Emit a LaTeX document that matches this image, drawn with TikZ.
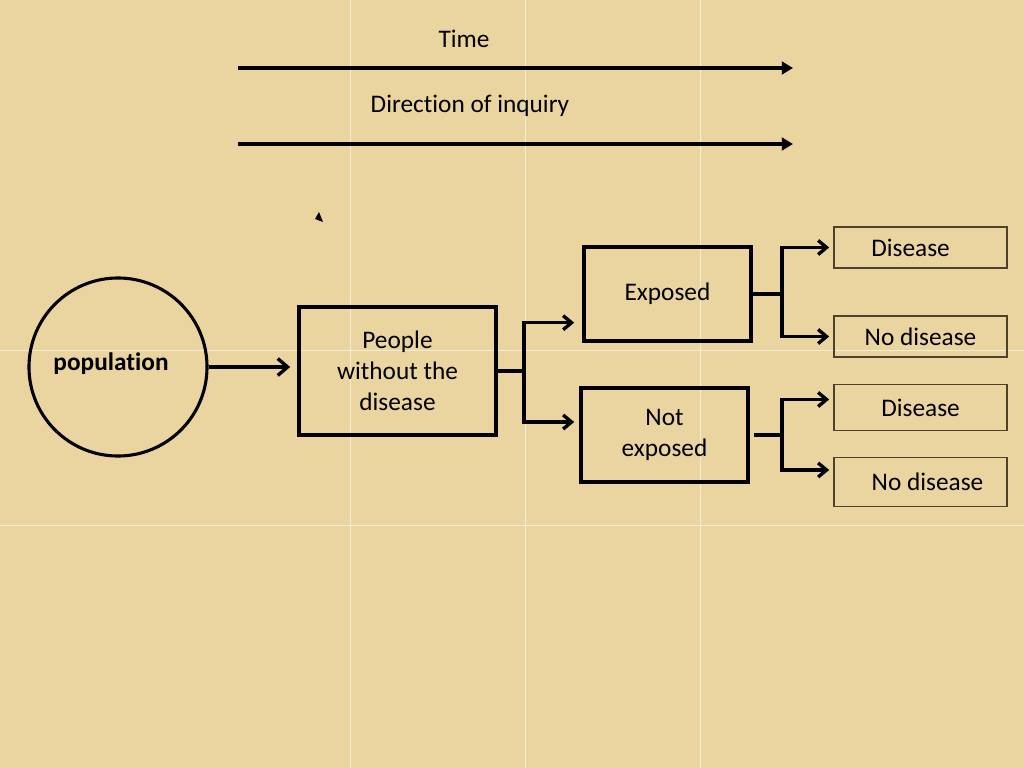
\documentclass[tikz,border=0pt]{standalone}
\usepackage{fontspec}
\setmainfont{Carlito}[Ligatures=NoCommon]
\usetikzlibrary{arrows.meta,calc}

\definecolor{papyrus}{RGB}{234,212,160}
\definecolor{seam}{RGB}{250,245,232}
\definecolor{thinline}{RGB}{78,64,42}

\begin{document}
\begin{tikzpicture}[
    x=0.025cm, y=-0.025cm,
    every node/.style={font=\fontsize{18}{22}\selectfont},
    box/.style={draw, line width=2.4pt, inner sep=0pt, align=center},
    obox/.style={draw=thinline, line width=1pt, inner sep=0pt,
                 minimum width=4.33cm},
    link/.style={line width=2.4pt},
    barb/.style={link, -{Straight Barb[length=6pt,width=10pt]}},
    timeline/.style={line width=2.8pt, -{Triangle[length=8pt,width=9pt]}}
  ]
    % Background
    \fill[papyrus] (0,0) rectangle (1024,768);
    \useasboundingbox (0,0) rectangle (1024,768);
    \foreach \sx in {350,525,700}
      \draw[seam, line width=0.6pt, opacity=0.75] (\sx,0) -- (\sx,768);
    \foreach \sy in {350,525}
      \draw[seam, line width=0.6pt, opacity=0.75] (0,\sy) -- (1024,\sy);

    % Time and inquiry
    \node (time) at (464,39) {Time};
    \node (inquiry) at (470,106) {Direction of inquiry};
    \coordinate (time0) at (238,68);
    \coordinate (time1) at (793,68);
    \coordinate (inq0) at (238,144);
    \coordinate (inq1) at (793,144);
    \fill (319,212) -- (315,219) -- (323,222) -- cycle;

    % Study groups
    \node[draw, circle, line width=2.2pt, minimum size=4.45cm, inner sep=0pt,
          font=\bfseries\fontsize{18}{22}\selectfont] (pop) at (118,367)
      {\raisebox{0.25cm}{\hspace*{-0.35cm}population}};
    \node[box, minimum width=4.93cm, minimum height=3.2cm] (people) at (397.5,371)
      {People\\without the\\disease};
    \node[box, minimum width=4.18cm, minimum height=2.35cm] (exposed) at (667.5,294) {Exposed};
    \node[box, minimum width=4.18cm, minimum height=2.35cm] (notexp) at (664.5,435)
      {Not\\exposed};

    % Outcomes
    \node[obox, minimum height=1.03cm] (dis1) at (920.5,247.5) {\hspace*{-0.5cm}Disease};
    \node[obox, minimum height=1.03cm] (nodis1) at (920.5,336.5) {No disease};
    \node[obox, minimum height=1.15cm] (dis2) at (920.5,407.5) {Disease};
    \node[obox, minimum height=1.23cm] (nodis2) at (920.5,482) {\hspace*{0.35cm}No disease};

    % Forks
    \coordinate (fk1) at ($(people.east)+(26,0)$);
    \coordinate (fk2) at ($(exposed.east)+(29,0)$);
    \coordinate (fk3) at ($(notexp.east)+(32,0)$);
    \coordinate (toexp) at ($(exposed.south west)+(-8,-20)$);
    \coordinate (tonot) at ($(notexp.west)+(-5,-13)$);
    \coordinate (todis2) at ($(dis2.west)+(-4,-8)$);
    \coordinate (tonodis2) at ($(nodis2.west)+(-4,-12)$);

    % Arrows
    \draw[timeline] (time0) -- (time1);
    \draw[timeline] (inq0) -- (inq1);
    \draw[link, -{Straight Barb[length=7pt,width=12pt]}, shorten >=1.75mm]
      (pop.east) -- (pop.east -| people.west);
    \draw[link] (people.east) -- (fk1);
    \draw[barb] (fk1) |- (toexp);
    \draw[barb] (fk1) |- (tonot);
    \draw[link] (exposed.east) -- (fk2);
    \draw[barb, shorten >=1mm] (fk2) |- (dis1.west);
    \draw[barb, shorten >=1mm] (fk2) |- (nodis1.west);
    \draw[link, shorten <=1mm] (notexp.east) -- (fk3);
    \draw[barb] (fk3) |- (todis2);
    \draw[barb] (fk3) |- (tonodis2);
  \end{tikzpicture}
\end{document}
